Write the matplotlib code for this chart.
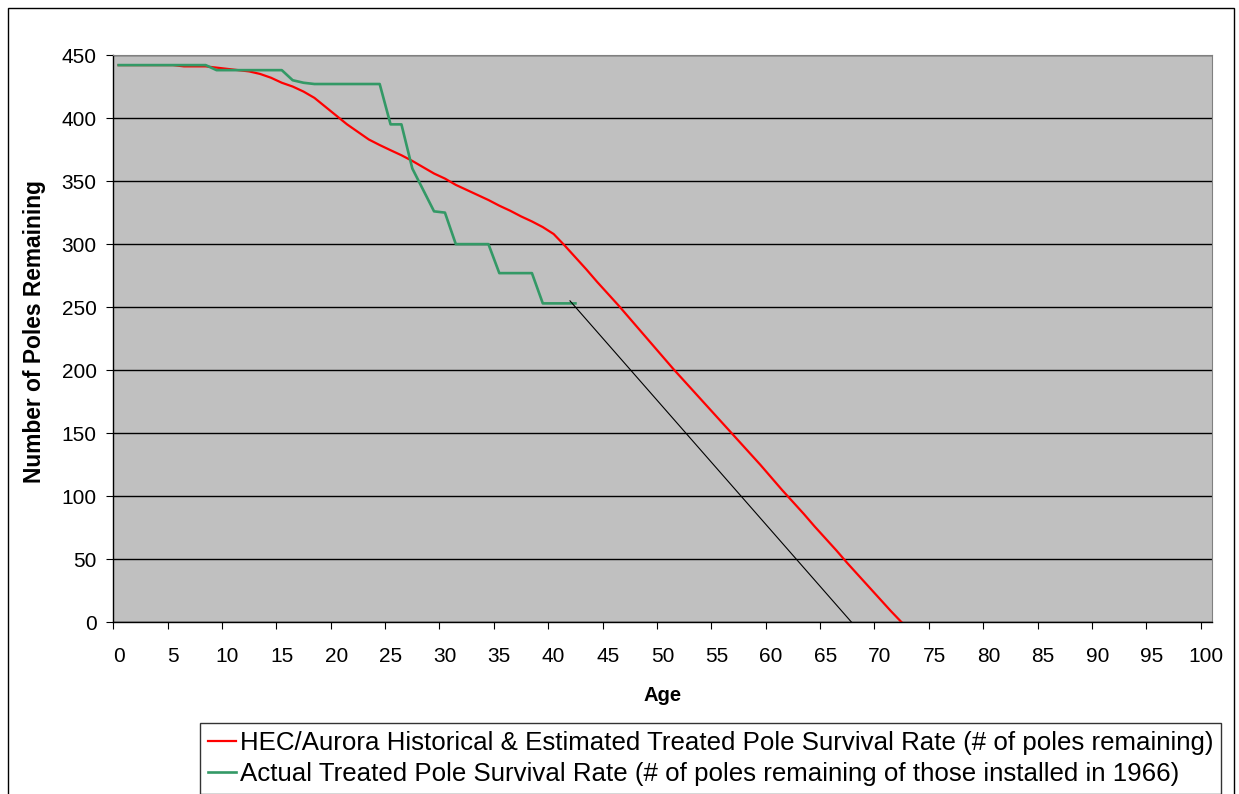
import numpy as np
import matplotlib.pyplot as plt
from matplotlib.patches import Rectangle

plt.rcParams['font.family'] = ['Liberation Sans', 'DejaVu Sans']

# HEC/Aurora historical & estimated survival curve, ages 0..72
hec_age = list(range(0, 73))
hec_poles = [442, 442, 442, 442, 442, 442, 441, 441, 441, 440,
             439, 438, 437, 435, 432, 428, 425, 421, 416, 409,
             402, 395, 389, 383, 378.6, 374.5, 370.5, 366, 361, 356,
             352, 347, 343, 339, 335, 330.5, 326.5, 322, 318, 313.5,
             308, 299, 289.5, 280, 270, 260.5, 251, 241, 231, 221,
             211, 201, 191.5, 182, 172.5, 163, 153.5, 144, 134.5, 125,
             115, 105, 95.5, 86, 76, 66.5, 57, 47, 37.5, 28,
             18.5, 9, 0]

# poles installed in 1966 still standing, ages 0..42
actual_age = list(range(0, 43))
actual_poles = [442, 442, 442, 442, 442, 442, 442, 442, 442, 438,
                438, 438, 438, 438, 438, 438, 430, 428, 427, 427,
                427, 427, 427, 427, 427, 395, 395, 360, 343, 326,
                325, 300, 300, 300, 300, 277, 277, 277, 277, 253,
                253, 253, 253]

# straight-line projection from the last actual point
trend_age = [41.5, 67.4]
trend_poles = [255, 0]

age_ticks = list(range(0, 101, 5))
pole_ticks = list(range(0, 451, 50))

fig = plt.figure(figsize=(12.39, 7.94), dpi=100)
ax = fig.add_axes([0.0914, 0.2162, 0.8865, 0.7145])
ax.set_facecolor('#c0c0c0')

ax.plot(hec_age, hec_poles, color='#ff0000', lw=1.6,
        label='HEC/Aurora Historical & Estimated Treated Pole Survival Rate (# of poles remaining)')
ax.plot(actual_age, actual_poles, color='#339966', lw=1.9,
        label='Actual Treated Pole Survival Rate (# of poles remaining of those installed in 1966)')
ax.plot(trend_age, trend_poles, color='black', lw=0.8)

ax.set_xlim(-0.5, 100.5)
ax.set_ylim(0, 450)

# category-style axis: tick marks between ages, labels on the ages
ax.set_xticks([a - 0.5 for a in age_ticks])
ax.set_xticklabels([])
ax.set_xticks(age_ticks, labels=[str(a) for a in age_ticks], minor=True)
ax.tick_params(axis='x', which='major', length=5, width=0.8, color='black')
ax.tick_params(axis='x', which='minor', length=0, pad=18, labelsize=15)
ax.set_yticks(pole_ticks)
ax.tick_params(axis='y', length=5, width=0.8, pad=7, labelsize=15)

ax.set_axisbelow(True)
ax.yaxis.grid(True, color='black', lw=1)

for side in ['top', 'right']:
    ax.spines[side].set_color('#808080')
for side in ['left', 'bottom']:
    ax.spines[side].set_color('black')
    ax.spines[side].set_linewidth(1)

ax.set_xlabel('Age', fontsize=14.5, fontweight='bold')
ax.xaxis.set_label_coords(0.5, -0.112)
ax.set_ylabel('Number of Poles Remaining', fontsize=16.4, fontweight='bold')
ax.yaxis.set_label_coords(-0.061, 0.512)

leg = fig.legend(loc='upper left', bbox_to_anchor=(200 / 1239, 1 - 723 / 794),
                 fontsize=18.6, frameon=True, fancybox=False, edgecolor='black',
                 handlelength=1.1, handletextpad=0.15, labelspacing=0.3,
                 borderpad=0.3, borderaxespad=0)
leg.get_frame().set_linewidth(1)

# chart-area border
fig.add_artist(Rectangle((8 / 1239, -0.1), (1234 - 8) / 1239, 1.1 - 8 / 794,
                         transform=fig.transFigure, fill=False,
                         edgecolor='black', lw=1))

fig.savefig('out.png', dpi=100)
